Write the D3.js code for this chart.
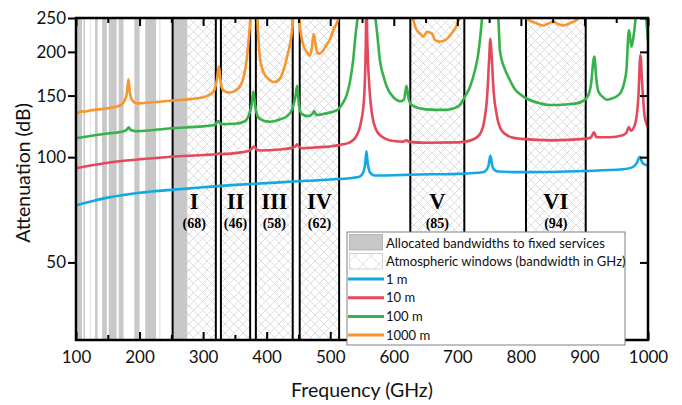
<!DOCTYPE html>
<html>
<head>
<meta charset="utf-8">
<script src="https://cdn.jsdelivr.net/npm/d3@7/dist/d3.min.js"></script>
<style>
  body { margin: 0; background: #fff; }
  svg { display: block; font-family: Lato, "Open Sans", sans-serif; }
</style>
</head>
<body>
<script>
// chart values
var fixedBands = [[102, 109.5], [111.8, 114.25], [122.25, 123], [130, 134], [141, 148.5],
  [151.5, 164], [167, 174.8], [191.8, 200], [209, 226], [231.5, 232.5], [252, 275]];

var windowNames = ['I', 'II', 'III', 'IV', 'V', 'VI'];
var windowBands = [[252, 320], [328, 374], [383, 441], [452, 514], [626, 711], [808, 902]];
var windowWidths = [68, 46, 58, 62, 85, 94];

var xTicks = [100, 200, 300, 400, 500, 600, 700, 800, 900, 1000];
var xMinorTicks = [150, 250, 350, 450, 550, 650, 750, 850, 950];
var yTicks = [50, 100, 150, 200, 250];

var seriesNames = ['1 m', '10 m', '100 m', '1000 m'];

var loss1m = [[100, 72.9], [125, 74.8], [150, 76.6], [200, 79.1], [250, 80.6], [300, 82.0],
  [350, 83.3], [400, 84.3], [450, 85.3], [500, 86.3], [545, 87.8], [550, 89.2], [553, 91.5],
  [555, 95.5], [557, 104], [559, 96], [561, 92], [564, 89.8], [570, 88.6], [600, 88.8],
  [625, 89.1], [700, 89.6], [740, 90.5], [746, 92], [749, 94.5], [752, 101], [755, 94.5],
  [758, 92], [764, 91], [800, 90.6], [900, 91.3], [960, 92.3], [975, 93.5], [982, 96],
  [987, 100], [991, 96.5], [995, 95.2], [1000, 94.8]];

var loss10m = [[100, 92.9], [125, 94.8], [150, 96.4], [200, 98.6], [250, 100.3], [300, 101.4],
  [320, 101.9], [325, 102.4], [330, 102], [360, 103.2], [372, 104.2], [376, 105.5], [380, 107.3],
  [384, 105.3], [390, 104.5], [420, 105.2], [440, 106.3], [445, 107.3], [448, 108.8], [451, 107],
  [456, 106], [475, 106.6], [500, 107.3], [520, 108.8], [530, 110], [540, 114], [548, 125],
  [553, 145], [556, 210], [557, 320], [558, 230], [562, 155], [566, 132], [572, 120], [580, 115],
  [600, 111.2], [615, 110.8], [620, 111.8], [624, 110.6], [650, 110], [700, 110.2], [720, 111.5],
  [735, 116], [742, 126], [747, 150], [750, 190], [752, 218], [754, 195], [757, 155], [762, 132],
  [770, 119], [785, 114], [800, 112.8], [850, 111.7], [900, 112.8], [910, 113.8], [915, 117.8],
  [919, 114], [940, 114], [960, 115.5], [966, 117.5], [970, 122], [973, 119], [980, 125],
  [985, 150], [988, 196], [991, 160], [995, 130], [1000, 122]];

var loss100m = [[100, 113.2], [130, 115.5], [150, 116.8], [175, 118.6], [180, 120], [183, 121.7],
  [186, 119.6], [195, 118.6], [250, 121], [300, 122.5], [318, 123.5], [324, 126.9], [328, 124.3],
  [350, 124.6], [365, 126.5], [372, 132], [376, 140], [379, 154], [382, 140], [386, 130.5],
  [395, 127], [405, 126.3], [420, 128], [432, 131], [440, 137], [445, 148], [448, 160], [451, 140],
  [455, 133], [465, 131], [472, 133], [475, 135.5], [478, 132], [490, 133], [510, 136], [520, 143],
  [526, 150.6], [532, 168], [536, 189], [540, 225], [543, 250], [548, 320], [557, 600], [566, 320],
  [570, 260], [574, 225], [578, 190], [584, 170], [589, 159], [600, 148], [610, 144.5], [616, 146],
  [620, 160], [623, 148], [628, 141], [650, 137], [680, 136.5], [695, 138], [704, 141], [712, 149],
  [720, 159], [728, 178], [733, 198], [738, 240], [742, 300], [752, 600], [762, 300], [765, 240],
  [767, 202], [775, 178], [780, 170], [790, 157], [804, 149], [830, 142.5], [846, 141], [870, 141.5],
  [888, 142.5], [903, 147.3], [910, 160], [915.5, 194], [919, 165], [922, 154], [930, 148],
  [935, 146], [945, 147.5], [956, 152], [962, 162], [966, 177], [970, 231], [972.5, 215],
  [974, 207], [977, 220], [980, 245], [983, 300], [988, 600], [994, 300], [998, 240], [1000, 215]];

var loss1000m = [[100, 133.5], [105, 134.3], [109, 135.2], [112, 135], [122, 136], [150, 138],
  [164, 139.5], [172, 141.5], [177, 146], [180, 152], [182.5, 167], [185, 152], [188, 146],
  [195, 142.5], [220, 143.5], [248, 145], [275, 146.3], [300, 148.3], [312, 151.5], [318, 156],
  [322, 168], [325, 182], [327, 168], [330, 157], [336, 153.5], [342, 153], [352, 155.5],
  [358, 159.4], [364, 170], [368.5, 189.6], [372, 220], [376, 280], [380, 500], [385, 260],
  [389, 195], [395, 175], [405, 166], [412, 164], [421, 168], [429, 183.6], [434, 200], [437, 211],
  [441, 240], [447, 400], [452, 241], [455, 220], [458, 208], [463, 200], [468, 195], [471, 205],
  [474, 225], [477, 210], [480, 198], [484, 198], [494, 209], [500, 218], [505, 231], [513, 250],
  [520, 300], [557, 900], [600, 400], [625, 270], [636, 231], [642, 225], [646.5, 221], [652, 228],
  [660, 226], [665, 216], [672, 214], [678, 215], [686, 220], [691, 226], [699, 238], [705, 255],
  [720, 300], [752, 900], [790, 300], [805, 255], [812, 247], [823, 242], [835, 238], [843, 241],
  [851, 244], [859, 240], [867, 238], [878, 242], [888, 247], [895, 255], [915, 320], [950, 400],
  [1000, 600]];

var allSeries = [loss1m, loss10m, loss100m, loss1000m];
var colors = ['#12a9e3', '#e2495b', '#36b24a', '#f7962f'];

var width = 682, height = 405;
var plot = {left: 76, right: 648, top: 18, bottom: 340};

var svg = d3.select('body').append('svg')
  .attr('width', width)
  .attr('height', height);

var x = d3.scaleLinear().domain([100, 1000]).range([plot.left, plot.right]);
var y = d3.scaleLog().domain([30, 250]).range([plot.bottom, plot.top]);

var defs = svg.append('defs');

// cross hatch for the windows
function hatch(id, size, col) {
  var p = defs.append('pattern')
    .attr('id', id)
    .attr('patternUnits', 'userSpaceOnUse')
    .attr('width', size)
    .attr('height', size);
  p.append('path')
    .attr('d', 'M0,0L' + size + ',' + size + 'M' + size + ',0L0,' + size)
    .attr('stroke', col)
    .attr('stroke-width', 0.6);
}
hatch('xhatch', 9, '#c6c6c6');
hatch('xhatchBig', 16, '#cccccc');

defs.append('clipPath').attr('id', 'plotClip')
  .append('rect')
  .attr('x', plot.left)
  .attr('y', plot.top)
  .attr('width', plot.right - plot.left)
  .attr('height', plot.bottom - plot.top);

// windows
svg.append('g').selectAll('rect')
  .data(windowBands)
  .enter()
  .append('rect')
  .attr('x', function(d) { return x(d[0]); })
  .attr('y', plot.top)
  .attr('width', function(d) { return x(d[1]) - x(d[0]); })
  .attr('height', plot.bottom - plot.top)
  .style('fill', 'url(#xhatch)');

// fixed-service allocations
svg.append('g').selectAll('rect')
  .data(fixedBands)
  .enter()
  .append('rect')
  .attr('x', function(d) { return x(d[0]); })
  .attr('y', plot.top)
  .attr('width', function(d) { return x(d[1]) - x(d[0]); })
  .attr('height', plot.bottom - plot.top)
  .style('fill', '#c8c8c8');

// window edges
var edges = [];
windowBands.forEach(function(d) { edges.push(d[0], d[1]); });
svg.append('g').selectAll('line')
  .data(edges)
  .enter()
  .append('line')
  .attr('x1', function(d) { return x(d); })
  .attr('x2', function(d) { return x(d); })
  .attr('y1', plot.top)
  .attr('y2', plot.bottom)
  .attr('stroke', '#000')
  .attr('stroke-width', 2);

// window labels
var wl = svg.append('g')
  .style('font-family', '"Liberation Serif", "DejaVu Serif", serif')
  .style('font-weight', 'bold')
  .attr('text-anchor', 'middle');
wl.selectAll('text.name')
  .data(windowBands)
  .enter()
  .append('text')
  .attr('class', 'name')
  .attr('x', function(d) { return x((d[0] + d[1]) / 2); })
  .attr('y', 208.5)
  .style('font-size', '22.5px')
  .text(function(d, i) { return windowNames[i]; });
wl.selectAll('text.bw')
  .data(windowBands)
  .enter()
  .append('text')
  .attr('class', 'bw')
  .attr('x', function(d) { return x((d[0] + d[1]) / 2); })
  .attr('y', 228)
  .style('font-size', '14px')
  .text(function(d, i) { return '(' + windowWidths[i] + ')'; });

// curves
var line = d3.line()
  .x(function(d) { return x(d[0]); })
  .y(function(d) { return y(d[1]); })
  .curve(d3.curveMonotoneX);

svg.append('g')
  .attr('clip-path', 'url(#plotClip)')
  .selectAll('path')
  .data(allSeries)
  .enter()
  .append('path')
  .attr('d', line)
  .attr('fill', 'none')
  .attr('stroke', function(d, i) { return colors[i]; })
  .attr('stroke-width', 2.6)
  .attr('stroke-linejoin', 'round');

// axes
function styleAxis(g) {
  g.select('.domain').remove();
  g.selectAll('.tick line').attr('stroke', '#000').attr('stroke-width', 2);
  g.selectAll('.tick text').style('font-family', 'Lato, sans-serif').style('font-size', '17px').attr('fill', '#111');
}

svg.append('g')
  .attr('transform', 'translate(0,' + plot.bottom + ')')
  .call(d3.axisBottom(x).tickValues(xTicks).tickSize(-8).tickPadding(11).tickFormat(d3.format('d')))
  .call(styleAxis);
svg.append('g')
  .attr('transform', 'translate(0,' + plot.bottom + ')')
  .call(d3.axisBottom(x).tickValues(xMinorTicks).tickSize(-5).tickFormat(''))
  .call(styleAxis);
svg.append('g')
  .attr('transform', 'translate(0,' + plot.top + ')')
  .call(d3.axisTop(x).tickValues(xTicks).tickSize(-8).tickFormat(''))
  .call(styleAxis);
svg.append('g')
  .attr('transform', 'translate(0,' + plot.top + ')')
  .call(d3.axisTop(x).tickValues(xMinorTicks).tickSize(-5).tickFormat(''))
  .call(styleAxis);
svg.append('g')
  .attr('transform', 'translate(' + plot.left + ',0)')
  .call(d3.axisLeft(y).tickValues(yTicks).tickSize(8).tickPadding(2).tickFormat(d3.format('d')))
  .call(styleAxis);
svg.append('g')
  .attr('transform', 'translate(' + plot.right + ',0)')
  .call(d3.axisRight(y).tickValues(yTicks).tickSize(-8).tickFormat(''))
  .call(styleAxis);

svg.append('rect')
  .attr('x', plot.left)
  .attr('y', plot.top)
  .attr('width', plot.right - plot.left)
  .attr('height', plot.bottom - plot.top)
  .attr('fill', 'none')
  .attr('stroke', '#000')
  .attr('stroke-width', 2.5);

// axis titles
svg.append('text')
  .attr('x', (plot.left + plot.right) / 2)
  .attr('y', 397)
  .attr('text-anchor', 'middle')
  .attr('fill', '#111')
  .style('font-size', '19.5px')
  .text('Frequency (GHz)');
svg.append('text')
  .attr('transform', 'translate(30,173) rotate(-90)')
  .attr('text-anchor', 'middle')
  .attr('fill', '#111')
  .style('font-size', '19.5px')
  .text('Attenuation (dB)');

// legend
var lg = svg.append('g').attr('transform', 'translate(347,232)');
lg.append('rect')
  .attr('width', 278)
  .attr('height', 113)
  .attr('fill', '#fff')
  .attr('stroke', '#808080')
  .attr('stroke-width', 1);
lg.append('rect')
  .attr('x', 2.5).attr('y', 2.5).attr('width', 33).attr('height', 15.5)
  .attr('fill', '#c8c8c8').attr('stroke', '#a8a8a8').attr('stroke-width', 0.8);
lg.append('rect')
  .attr('x', 2.5).attr('y', 21.5).attr('width', 33).attr('height', 15.5)
  .attr('fill', 'url(#xhatchBig)').attr('stroke', '#c8c8c8').attr('stroke-width', 0.8);
var legendText = ['Allocated bandwidths to fixed services', 'Atmospheric windows (bandwidth in GHz)'];
lg.selectAll('text.area')
  .data(legendText)
  .enter()
  .append('text')
  .attr('class', 'area')
  .attr('x', 39)
  .attr('y', function(d, i) { return 15.5 + i * 18.5; })
  .attr('fill', '#111')
  .style('font-size', '13px')
  .text(function(d) { return d; });
var li = lg.selectAll('g.item')
  .data(seriesNames)
  .enter()
  .append('g')
  .attr('class', 'item')
  .attr('transform', function(d, i) { return 'translate(0,' + (47 + i * 18.7) + ')'; });
li.append('line')
  .attr('x1', 1).attr('x2', 37)
  .attr('stroke', function(d, i) { return colors[i]; })
  .attr('stroke-width', 3);
li.append('text')
  .attr('x', 39)
  .attr('y', 4.5)
  .attr('fill', '#111')
  .style('font-size', '13px')
  .text(function(d) { return d; });
</script>
</body>
</html>
